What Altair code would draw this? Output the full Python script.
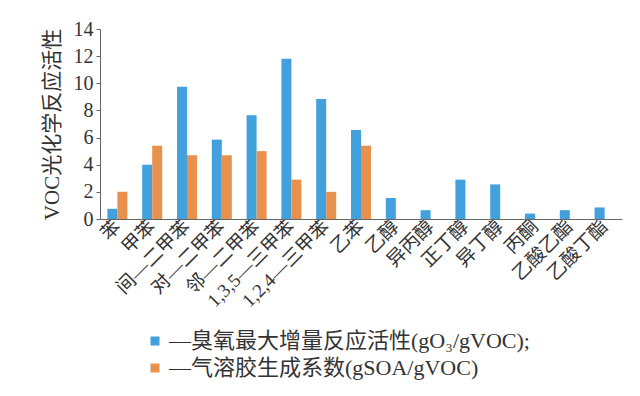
import altair as alt
import pandas as pd

categories = ["苯", "甲苯", "间—二甲苯", "对—二甲苯", "邻—二甲苯", "1,3,5—三甲苯",
              "1,2,4—三甲苯", "乙苯", "乙醇", "异丙醇", "正丁醇", "异丁醇",
              "丙酮", "乙酸乙酯", "乙酸丁酯"]
mir = [0.75, 4.0, 9.75, 5.85, 7.65, 11.8, 8.85, 6.55, 1.55, 0.65, 2.9, 2.55, 0.4, 0.65, 0.85]
soa = [2.0, 5.4, 4.7, 4.7, 5.0, 2.9, 2.0, 5.4, None, None, None, None, None, None, None]
series = ["—臭氧最大增量反应活性(gO₃/gVOC);", "—气溶胶生成系数(gSOA/gVOC)"]
colors = ["#42A1DC", "#E8914F"]

rows = []
for c, a, b in zip(categories, mir, soa):
    rows.append({"cat": c, "s": series[0], "v": a})
    if b is not None:
        rows.append({"cat": c, "s": series[1], "v": b})
df = pd.DataFrame(rows)

FONT = "Liberation Serif, DejaVu Serif, Noto Sans CJK SC, serif"

chart = alt.Chart(df).mark_bar().encode(
    x=alt.X("cat:N", sort=categories,
            scale=alt.Scale(paddingInner=0.425, paddingOuter=0.2125),
            axis=alt.Axis(title=None, labelAngle=315, labelAlign="right",
                          labelBaseline="middle", ticks=False, labelPadding=4,
                          labelFontSize=19, labelFont=FONT, labelColor="#333333",
                          domainColor="#666666", labelLimit=300)),
    xOffset=alt.XOffset("s:N", sort=series, scale=alt.Scale(paddingInner=0, paddingOuter=0)),
    y=alt.Y("v:Q", scale=alt.Scale(domain=[0, 14], nice=False),
            axis=alt.Axis(title="VOC光化学反应活性", values=[0, 2, 4, 6, 8, 10, 12, 14],
                          grid=False, tickSize=4, tickColor="#666666",
                          domainColor="#666666", labelFontSize=20, labelFont=FONT,
                          labelColor="#333333", labelPadding=3,
                          titleFont=FONT, titleFontSize=21, titleFontWeight="normal",
                          titleColor="#333333", titlePadding=11)),
    color=alt.Color("s:N", sort=series,
                    scale=alt.Scale(domain=series, range=colors),
                    legend=alt.Legend(title=None, orient="none", legendX=44, legendY=301,
                                      direction="vertical", symbolType="square",
                                      symbolSize=81, symbolStrokeWidth=0,
                                      labelFontSize=22, labelFont=FONT,
                                      labelColor="#333333", rowPadding=5,
                                      labelOffset=3, padding=0, labelLimit=500)),
).properties(
    width=522, height=190,
    autosize=alt.AutoSizeParams(type="none"),
    padding={"left": 92, "top": 21, "right": 10, "bottom": 176},
).configure_view(stroke=None)

chart.save("out.html", embed_options={"renderer": "svg", "actions": False})
